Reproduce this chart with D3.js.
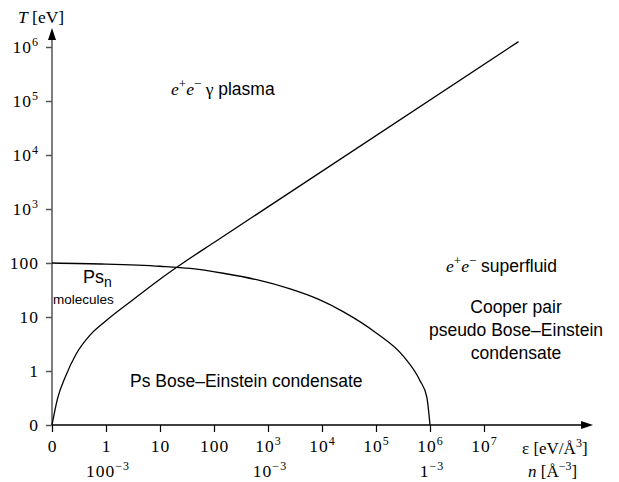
<!DOCTYPE html>
<html>
<head>
<meta charset="utf-8">
<script src="https://cdn.jsdelivr.net/npm/d3@7"></script>
<style>
body { margin: 0; background: #fff; }
.serif { font-family: "Liberation Serif", "Times New Roman", serif; }
.sans { font-family: "Liberation Sans", Arial, Helvetica, sans-serif; }
</style>
</head>
<body>
<svg id="chart" width="619" height="482"></svg>
<script>
// tick labels, decade index 0..8 on x, 0..7 on y ("0" sits one decade below "1")
const xTickBase = ["0", "1", "10", "100", "10", "10", "10", "10", "10"];
const xTickSup  = ["", "", "", "", "3", "4", "5", "6", "7"];
const yTickBase = ["0", "1", "10", "100", "10", "10", "10", "10"];
const yTickSup  = ["", "", "", "", "3", "4", "5", "6"];

// second row: number density under the energy density axis
const nTickPos  = [1, 4, 7];
const nTickBase = ["100", "10", "1"];

// phase boundaries in decade units [x, y]
const plasmaLine = [[0, 0], [0.1, 0.48], [0.25, 0.9], [0.45, 1.32], [0.7, 1.66], [1.0, 1.93],
                    [1.5, 2.32], [2.0, 2.7], [2.5, 3.05], [3.0, 3.38], [8.64, 7.10]];
const becLine = [[0, 3.0], [1.0, 2.98], [2.0, 2.94], [2.56, 2.90], [3.17, 2.81], [3.79, 2.69],
                 [4.41, 2.52], [4.93, 2.33], [5.39, 2.10], [6.01, 1.70], [6.51, 1.27], [6.81, 0.83],
                 [6.94, 0.52], [7.0, 0]];

const svg = d3.select("#chart");

let x = d3.scaleLinear().domain([0, 9]).range([52, 538]);
let y = d3.scaleLinear().domain([0, 7]).range([425, 47]);

// axis lines with arrows (drawn by hand so they run past the last tick)
const xEnd = 10.02, yEnd = 7.35;
svg.append("line").attr("x1", x(0)).attr("x2", x(xEnd) - 8).attr("y1", y(0)).attr("y2", y(0))
    .attr("stroke", "#000").attr("stroke-width", 1.3);
svg.append("path")
    .attr("d", `M${x(xEnd)},${y(0)} L${x(xEnd) - 12},${y(0) - 4} L${x(xEnd) - 12},${y(0) + 4} Z`)
    .attr("fill", "#000");
svg.append("line").attr("x1", x(0)).attr("x2", x(0)).attr("y1", y(0)).attr("y2", y(yEnd) + 8)
    .attr("stroke", "#555").attr("stroke-width", 1.5);
svg.append("path")
    .attr("d", `M${x(0)},${y(yEnd)} L${x(0) - 4},${y(yEnd) + 12} L${x(0) + 4},${y(yEnd) + 12} Z`)
    .attr("fill", "#000");

function supLabel(sel, base, sup) {
    sel.text(null);
    sel.append("tspan").text(base);
    if (sup) sel.append("tspan").attr("dy", -7).attr("font-size", 12).text(sup);
}

// x axis
let gx = svg.append("g").attr("transform", `translate(0,${y(0)})`)
    .call(d3.axisBottom(x).tickValues(d3.range(9)).tickSize(7).tickSizeOuter(0));
gx.select(".domain").remove();
gx.selectAll(".tick line").attr("stroke", "#000").attr("stroke-width", 1.2);
gx.selectAll(".tick text")
    .attr("class", "serif").attr("font-size", 17.5).attr("letter-spacing", 1).attr("fill", "#000")
    .attr("y", 27).attr("dy", null)
    .each(function (d) { supLabel(d3.select(this), xTickBase[d], xTickSup[d]); });

// y axis
let gy = svg.append("g").attr("transform", `translate(${x(0)},0)`)
    .call(d3.axisLeft(y).tickValues(d3.range(8)).tickSize(6).tickPadding(7).tickSizeOuter(0));
gy.select(".domain").remove();
gy.selectAll(".tick line").attr("stroke", "#555").attr("stroke-width", 1.5);
gy.selectAll(".tick text")
    .attr("class", "serif").attr("font-size", 17.5).attr("letter-spacing", 1).attr("fill", "#000")
    .attr("dy", "0.34em")
    .each(function (d) { supLabel(d3.select(this), yTickBase[d], yTickSup[d]); });

// density row
svg.append("g").selectAll("text").data(nTickPos).enter().append("text")
    .attr("class", "serif").attr("font-size", 17.5).attr("letter-spacing", 1)
    .attr("text-anchor", "middle")
    .attr("x", d => x(d) + 2).attr("y", y(0) + 52)
    .each(function (d, i) { supLabel(d3.select(this), nTickBase[i], "\u22123"); });

// curves
let line = d3.line().x(d => x(d[0])).y(d => y(d[1])).curve(d3.curveMonotoneX);
svg.append("path").datum(plasmaLine).attr("d", line)
    .attr("fill", "none").attr("stroke", "#000").attr("stroke-width", 1.3);
svg.append("path").datum(becLine).attr("d", line)
    .attr("fill", "none").attr("stroke", "#000").attr("stroke-width", 1.3);

// axis titles
let tT = svg.append("text").attr("class", "serif").attr("font-size", 17.5).attr("x", 18).attr("y", 23);
tT.append("tspan").attr("font-style", "italic").text("T");
tT.append("tspan").text(" [eV]");

let tE = svg.append("text").attr("class", "serif").attr("font-size", 17).attr("x", 522).attr("y", 454);
tE.append("tspan").text("\u03b5 [eV/\u00c5");
tE.append("tspan").attr("dy", -7).attr("font-size", 12).text("3");
tE.append("tspan").attr("dy", 7).text("]");

let tN = svg.append("text").attr("class", "serif").attr("font-size", 17).attr("x", 528).attr("y", 477);
tN.append("tspan").attr("font-style", "italic").text("n");
tN.append("tspan").text(" [\u00c5");
tN.append("tspan").attr("dy", -7).attr("font-size", 12).text("\u22123");
tN.append("tspan").attr("dy", 7).text("]");

// region labels
function pairLabel(px, py, rest) {
    let t = svg.append("text").attr("x", px).attr("y", py).attr("font-size", 17.5);
    t.append("tspan").attr("class", "serif").attr("font-style", "italic").text("e");
    t.append("tspan").attr("class", "serif").attr("dy", -7).attr("font-size", 13).text("+");
    t.append("tspan").attr("class", "serif").attr("dy", 7).attr("font-style", "italic").text("e");
    t.append("tspan").attr("class", "serif").attr("dy", -7).attr("font-size", 13).text("\u2212");
    rest(t);
}
pairLabel(171, 95, t => {
    t.append("tspan").attr("class", "serif").attr("dy", 7).text(" \u03b3");
    t.append("tspan").attr("class", "sans").attr("font-size", 17.5).text("  plasma");
});
pairLabel(446, 272, t => {
    t.append("tspan").attr("class", "sans").attr("dy", 7).attr("font-size", 17.5).text("  superfluid");
});

let ps = svg.append("text").attr("class", "sans").attr("font-size", 18).attr("x", 83).attr("y", 283);
ps.append("tspan").text("Ps");
ps.append("tspan").attr("dy", 4).attr("font-size", 14).text("n");
svg.append("text").attr("class", "sans").attr("font-size", 13.5).attr("x", 53).attr("y", 304).text("molecules");

svg.append("text").attr("class", "sans").attr("font-size", 17.5).attr("x", 130).attr("y", 387)
    .text("Ps Bose\u2013Einstein condensate");

const cooperLines = ["Cooper pair", "pseudo Bose\u2013Einstein", "condensate"];
svg.append("g").selectAll("text").data(cooperLines).enter().append("text")
    .attr("class", "sans").attr("font-size", 17.5).attr("text-anchor", "middle")
    .attr("x", 516).attr("y", (d, i) => 313 + i * 23).text(d => d);
</script>
</body>
</html>
